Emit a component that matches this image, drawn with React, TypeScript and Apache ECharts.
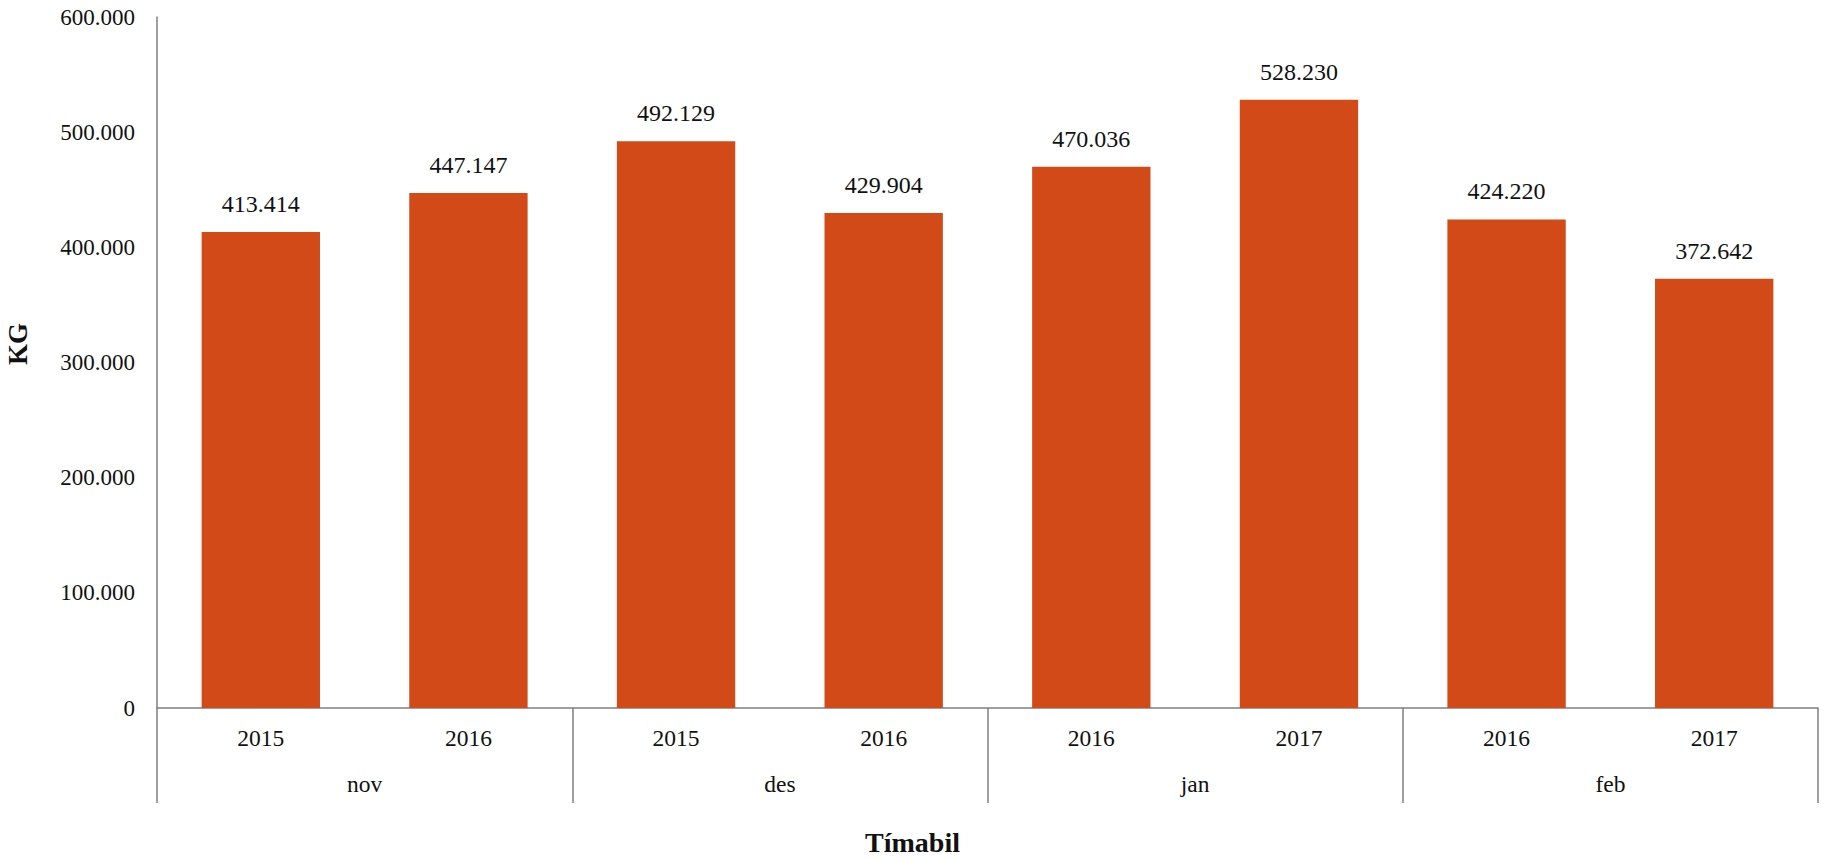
import React, { useEffect, useRef } from "react";
import * as echarts from "echarts";

const years = ["2015", "2016", "2015", "2016", "2016", "2017", "2016", "2017"];
const months = ["nov", "des", "jan", "feb"];
const values = [413414, 447147, 492129, 429904, 470036, 528230, 424220, 372642];
const yTicks = { min: 0, max: 600000, interval: 100000 };
const xTitle = "Tímabil";
const yTitle = "KG";

const FONT = "Liberation Serif";
const BAR = "#D24A18";
const AXIS = "#7f7f7f";

const fmt = (v: number) =>
  String(Math.round(v)).replace(/\B(?=(\d{3})+(?!\d))/g, ".");

export default function App() {
  const ref = useRef<HTMLDivElement>(null);
  useEffect(() => {
    if (!ref.current) return;
    const chart = echarts.init(ref.current, undefined, { renderer: "svg" });
    chart.setOption({
      animation: false,
      backgroundColor: "#ffffff",
      textStyle: { fontFamily: FONT },
      grid: { left: 157, right: 7, top: 17, bottom: 153, containLabel: false },
      xAxis: [
        {
          type: "category",
          data: years,
          position: "bottom",
          axisLine: { show: true, lineStyle: { color: AXIS, width: 1.5 } },
          axisTick: { show: false },
          axisLabel: { color: "#111", fontFamily: FONT, fontSize: 23.5, margin: 18, interval: 0 },
        },
        {
          type: "category",
          data: months,
          position: "bottom",
          axisLine: { show: false },
          axisTick: { show: true, length: 95, interval: 0, lineStyle: { color: AXIS, width: 1.5 } },
          axisLabel: { color: "#111", fontFamily: FONT, fontSize: 23.5, margin: 64, interval: 0 },
        },
      ],
      yAxis: {
        type: "value",
        min: yTicks.min,
        max: yTicks.max,
        interval: yTicks.interval,
        axisLine: { show: true, lineStyle: { color: AXIS, width: 1.5 } },
        axisTick: { show: false },
        splitLine: { show: false },
        axisLabel: {
          color: "#111",
          fontFamily: FONT,
          fontSize: 23,
          margin: 22,
          formatter: (v: number) => fmt(v),
        },
      },
      series: [
        {
          type: "bar",
          data: values,
          xAxisIndex: 0,
          barCategoryGap: "43%",
          itemStyle: { color: BAR },
          label: {
            show: true,
            position: "top",
            distance: 16,
            color: "#111",
            fontFamily: FONT,
            fontSize: 24,
            formatter: (p: any) => fmt(p.value),
          },
        },
      ],
      graphic: [
        {
          type: "text",
          left: "center",
          top: 828,
          style: { text: xTitle, font: `bold 28px ${FONT}`, fill: "#111" },
        },
        {
          type: "text",
          x: 4,
          y: 344,
          rotation: Math.PI / 2,
          style: {
            text: yTitle,
            font: `bold 27px ${FONT}`,
            fill: "#111",
            align: "center",
            verticalAlign: "top",
          },
        },
      ],
    });
    return () => chart.dispose();
  }, []);
  return (
    <div
      ref={ref}
      style={{ position: "fixed", left: 0, top: 0, width: 1825, height: 861, background: "#fff" }}
    />
  );
}
